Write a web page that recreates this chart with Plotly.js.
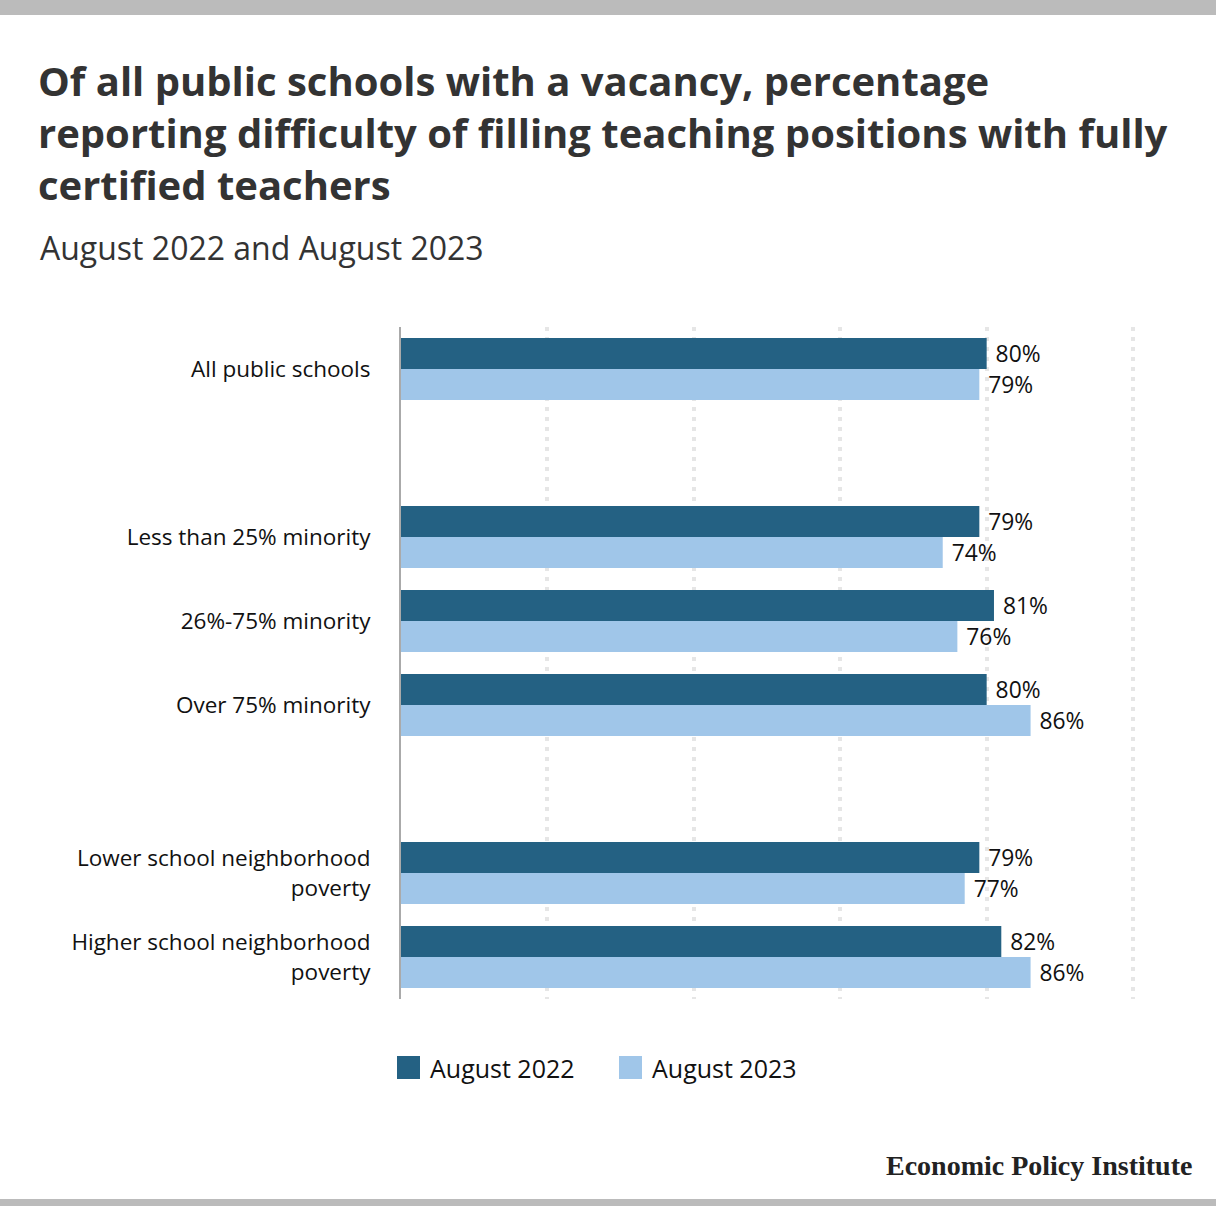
<!DOCTYPE html>
<html>
<head>
<meta charset="utf-8">
<script src="https://cdn.plot.ly/plotly-3.0.1.min.js"></script>
<style>
  html, body { margin: 0; padding: 0; background: #fff; }
  #chart { width: 1216px; height: 1206px; }
</style>
</head>
<body>
<div id="chart"></div>
<script>
// Categories, top to bottom; the blank ones are spacers between groups
var categories = [
    'All public schools',
    ' ',
    'Less than 25% minority',
    '26%-75% minority',
    'Over 75% minority',
    '  ',
    'Lower school neighborhood<br>poverty',
    'Higher school neighborhood<br>poverty'
];

var groups = [
    'All public schools',
    'Less than 25% minority',
    '26%-75% minority',
    'Over 75% minority',
    'Lower school neighborhood<br>poverty',
    'Higher school neighborhood<br>poverty'
];

var aug2022 = [80, 79, 81, 80, 79, 82];
var aug2023 = [79, 74, 76, 86, 77, 86];

var seriesNames = ['August 2022', 'August 2023'];
var seriesColors = ['#246183', '#a0c6e9'];

var W = 1216, H = 1206;
var margin = {l: 401, r: 80, t: 327, b: 207};
var plotW = W - margin.l - margin.r;
var plotH = H - margin.t - margin.b;

// pixel -> paper coordinates
function px(x) { return (x - margin.l) / plotW; }
function py(y) { return (H - margin.b - y) / plotH; }

var font = '"Open Sans", "Noto Sans", sans-serif';

var seriesValues = [aug2022, aug2023];
var plotlyData = [];
for(var i = 0; i < seriesValues.length; i++)
{
    plotlyData.push({
        type: 'bar',
        orientation: 'h',
        name: seriesNames[i],
        x: seriesValues[i],
        y: groups,
        marker: {color: seriesColors[i]},
        // leading space gives the label a little room from the bar end
        texttemplate: ' %{x}%',
        textposition: 'outside',
        cliponaxis: false,
        textfont: {family: font, size: 23.5, color: '#111'},
        hoverinfo: 'x+name',
        showlegend: false
    });
}

var annotations = [
    {
        text: 'August 2022 and August 2023',
        xref: 'paper', yref: 'paper',
        x: px(38), y: py(247),
        xanchor: 'left', yanchor: 'middle',
        showarrow: false,
        font: {family: font, size: 32, color: '#333'}
    },
    {
        text: '<b>Economic Policy Institute</b>',
        xref: 'paper', yref: 'paper',
        x: px(1194), y: py(1165),
        xanchor: 'right', yanchor: 'middle',
        showarrow: false,
        font: {family: '"Liberation Serif", "DejaVu Serif", serif', size: 28, color: '#222'}
    }
];

var shapes = [
    {
        type: 'rect', xref: 'paper', yref: 'paper', layer: 'above',
        x0: px(0), x1: px(W), y0: py(0), y1: py(15),
        fillcolor: '#bbbbbb', line: {width: 0}
    },
    {
        type: 'rect', xref: 'paper', yref: 'paper', layer: 'above',
        x0: px(0), x1: px(W), y0: py(1199), y1: py(H),
        fillcolor: '#bbbbbb', line: {width: 0}
    }
];

// legend: big square swatches like the original
var legendX = [397, 619];
for(var k = 0; k < seriesNames.length; k++)
{
    shapes.push({
        type: 'rect', xref: 'paper', yref: 'paper',
        x0: px(legendX[k]), x1: px(legendX[k] + 23),
        y0: py(1056), y1: py(1079),
        fillcolor: seriesColors[k], line: {width: 0}
    });
    annotations.push({
        text: seriesNames[k],
        xref: 'paper', yref: 'paper',
        x: px(legendX[k] + 31), y: py(1068),
        xanchor: 'left', yanchor: 'middle',
        showarrow: false,
        font: {family: font, size: 25, color: '#111'}
    });
}

var plotlyLayout = {
    width: W,
    height: H,
    margin: margin,
    paper_bgcolor: '#fff',
    plot_bgcolor: '#fff',
    font: {family: font, color: '#111'},
    barmode: 'group',
    bargap: 0.26,
    bargroupgap: 0,
    title: {
        text: 'Of all public schools with a vacancy, percentage<br>reporting difficulty of filling teaching positions with fully<br>certified teachers',
        font: {family: font, size: 40, color: '#333', weight: 'bold'},
        xref: 'container',
        yref: 'container',
        x: 38 / W,
        xanchor: 'left',
        y: 1 - 96 / H,
        yanchor: 'top'
    },
    xaxis: {
        range: [0, 100.4],
        tickvals: [20, 40, 60, 80, 100],
        showticklabels: false,
        showgrid: true,
        gridcolor: '#e6e6e6',
        gridwidth: 4,
        griddash: '4px,6px',
        zeroline: false,
        showline: false,
        fixedrange: true
    },
    yaxis: {
        type: 'category',
        categoryorder: 'array',
        categoryarray: categories,
        range: [categories.length - 0.5, -0.5],
        showline: true,
        linecolor: '#aaaaaa',
        linewidth: 2,
        showgrid: false,
        zeroline: false,
        ticks: '',
        ticklabelstandoff: 24,
        tickfont: {family: font, size: 22.5, color: '#111'},
        fixedrange: true
    },
    annotations: annotations,
    shapes: shapes
};

var plotlyConfig = {
    displayModeBar: false,
    responsive: false
};

Plotly.newPlot('chart', plotlyData, plotlyLayout, plotlyConfig);
</script>
</body>
</html>
